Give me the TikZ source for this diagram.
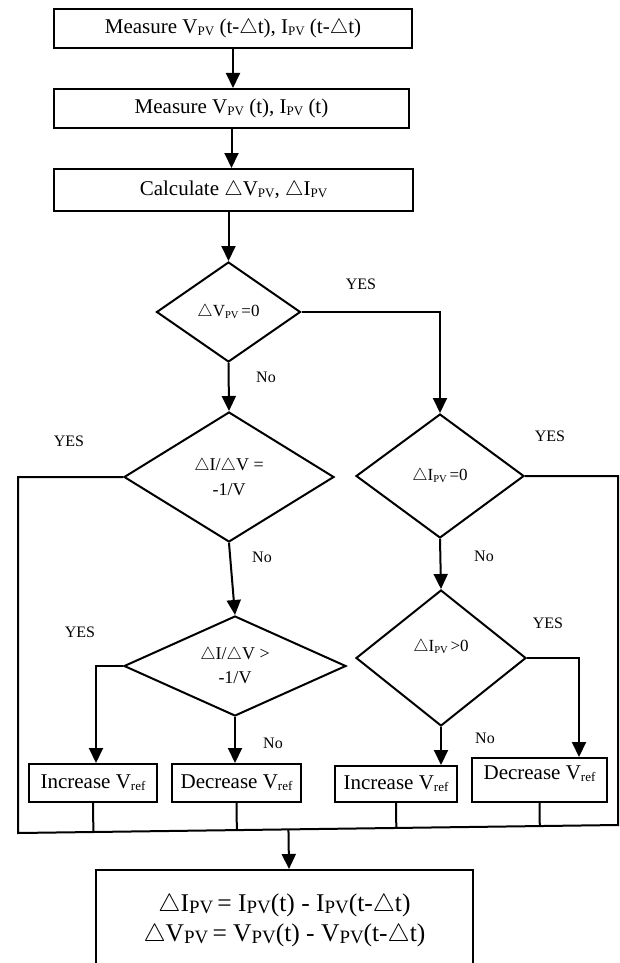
\documentclass[tikz,border=0pt]{standalone}
\usepackage{fontspec}
\setmainfont{Liberation Serif}
\usetikzlibrary{arrows.meta,shapes.geometric,calc}
% small lowered subscript letters, as in V_PV
\newcommand\sbs[1]{\raisebox{-0.1em}{\scalebox{0.62}{#1}}}
\newcommand\sbb[1]{\raisebox{-0.08em}{\scalebox{0.74}{#1}}}
\newcommand\dlt{$\triangle$}

\begin{document}
\begin{tikzpicture}[x=1pt,y=-1pt,
  line width=2pt,
  proc/.style={draw, rectangle, inner sep=0pt, font=\fontsize{21}{24}\selectfont},
  dec/.style={draw, diamond, inner sep=0pt, align=center, font=\fontsize{18}{25}\selectfont},
  lbl/.style={inner sep=0pt, font=\fontsize{16}{18}\selectfont},
  arr/.style={-{Triangle[width=14pt,length=15pt]}},
]
\useasboundingbox (0,0) rectangle (620,963);
\clip (0,0) rectangle (620,963);
\fill[white] (0,0) rectangle (620,963);

% measurement and calculation steps
\node[proc, minimum width=358pt, minimum height=39pt] (b1) at (233,28.5)
  {Measure V\sbs{PV} (t-\dlt t), I\sbs{PV} (t-\dlt t)};
\node[proc, minimum width=355pt, minimum height=39pt] (b2) at (231.5,108.5)
  {Measure V\sbs{PV} (t), I\sbs{PV} (t)};
\node[proc, minimum width=359pt, minimum height=42pt] (b3) at (233.5,190)
  {Calculate \dlt V\sbs{PV}, \dlt I\sbs{PV}};

% decisions
\node[dec, shape aspect=1.44, minimum width=144pt, minimum height=100pt,
      font=\fontsize{17}{20}\selectfont] (d1) at (228.5,312) {\dlt V\sbs{PV}\,=0};
\node[dec, shape aspect=1.6, minimum width=210pt, minimum height=130pt] (d2) at (229,477)
  {\dlt I/\dlt V =\\-1/V};
\node[dec, shape aspect=1.35, minimum width=168pt, minimum height=124pt,
      font=\fontsize{17}{20}\selectfont] (d3) at (440,476) {\dlt I\sbs{PV}\,=0};
\node[dec, shape aspect=2.2, minimum width=222pt, minimum height=100pt,
      font=\fontsize{18}{24}\selectfont] (d4) at (235,666)
  {\dlt I/\dlt V >\\-1/V};
\node[dec, shape aspect=1.25, minimum width=170pt, minimum height=136pt,
      label={[font=\fontsize{17}{20}\selectfont, yshift=11pt]center:\dlt I\sbs{PV}\,>0}]
  (d5) at (441,658) {};

% reference voltage actions
\node[proc, minimum width=128pt, minimum height=38pt] (inc1) at (93,783) {Increase V\sbs{ref}};
\node[proc, minimum width=129pt, minimum height=38pt] (dec1) at (236.5,783) {Decrease V\sbs{ref}};
\node[proc, minimum width=122pt, minimum height=36pt] (inc2) at (396,784) {Increase V\sbs{ref}};
\node[proc, minimum width=135pt, minimum height=44pt,
      label={[font=\fontsize{21}{24}\selectfont, yshift=6pt]center:Decrease V\sbs{ref}}]
  (dec2) at (539.5,780) {};

% update of previous samples
\node[proc, minimum width=377pt, minimum height=100pt, align=center,
      font=\fontsize{25.5}{30}\selectfont] (res) at (284.5,920)
  {\dlt I\sbb{PV}\,= I\sbb{PV}(t) - I\sbb{PV}(t-\dlt t)\\
   \dlt V\sbb{PV}\,= V\sbb{PV}(t) - V\sbb{PV}(t-\dlt t)};

% branch labels
\node[lbl] (y1) at (361,284) {YES};
\node[lbl] (n1) at (266,377) {No};
\node[lbl] (y2) at (69,441) {YES};
\node[lbl] (y3) at (550,436) {YES};
\node[lbl] (n2) at (262,557) {No};
\node[lbl] (n3) at (484,556) {No};
\node[lbl] (y4) at (80,632) {YES};
\node[lbl] (y5) at (548,623) {YES};
\node[lbl] (n4) at (273,743) {No};
\node[lbl] (n5) at (485,738) {No};

% collecting bus
\coordinate (busL) at (18,833);
\coordinate (busR) at (618,825);

% connectors
\draw[arr] (b1.south) -- (b1.south |- b2.north);
\draw[arr] (b2.south) -- (b2.south |- b3.north);
\draw[arr] (d1.north |- b3.south) -- (d1.north);
\draw[arr] (d1.east) -| (d3.north);
\draw[arr] (d1.south) -- (d2.north);
\draw[arr] (d2.south) -- (d4.north);
\draw[arr] (d3.south) -- (d5.north);
\draw[arr] (d4.west) -| ([xshift=3pt]inc1.north);
\draw[arr] (d4.south) -- (d4.south |- dec1.north);
\draw[arr] (d5.south) -- (d5.south |- inc2.north);
\draw[arr] (d5.east) -| ([xshift=39.5pt]dec2.north);

\draw (d2.west) -| (busL) -- (busR) |- (d3.east);
\draw (inc1.south) -- ($(busL)!(inc1.south)!(busR)$);
\draw (dec1.south) -- ($(busL)!(dec1.south)!(busR)$);
\draw (inc2.south) -- ($(busL)!(inc2.south)!(busR)$);
\draw (dec2.south) -- ($(busL)!(dec2.south)!(busR)$);
\draw[arr] ($(busL)!([xshift=4.5pt]res.north)!(busR)$) -- ([xshift=4.5pt]res.north);
\end{tikzpicture}
\end{document}
